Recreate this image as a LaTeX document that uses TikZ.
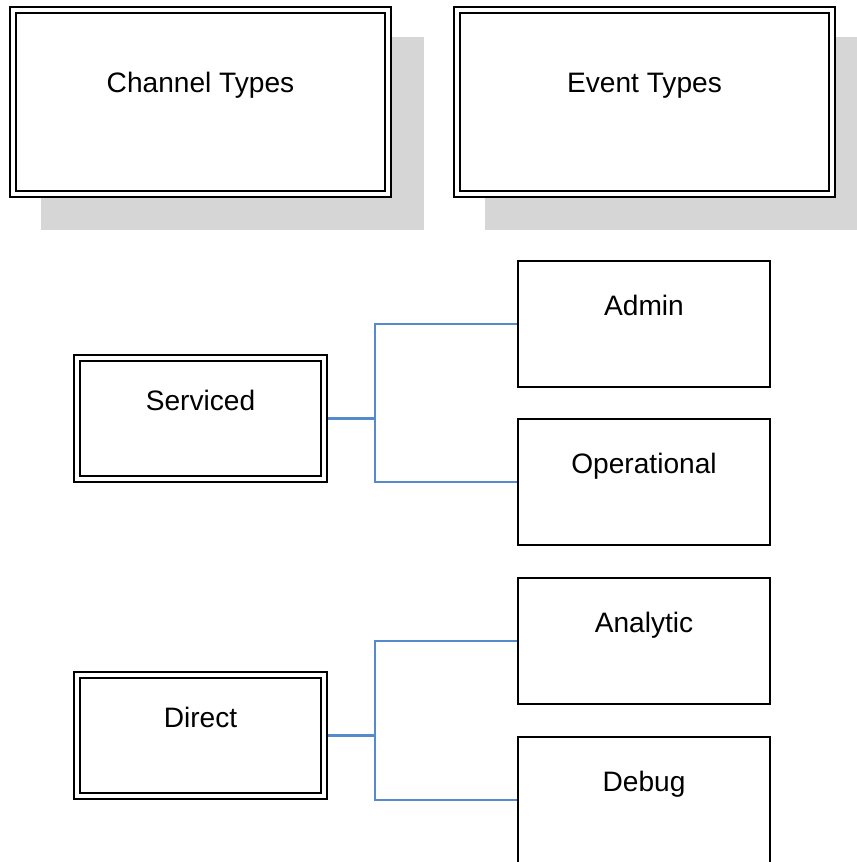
\documentclass[tikz,border=0pt]{standalone}
\usepackage{fontspec}
\setmainfont{Liberation Sans}
\usetikzlibrary{backgrounds}
\definecolor{linkblue}{RGB}{85,138,204}
\definecolor{shadowgray}{RGB}{214,214,214}

\begin{document}
\begin{tikzpicture}
[x=0.02cm, y=-0.02cm,
typebox/.style ={rectangle, draw=black, fill=white, double, line width=1.1pt,
double distance=2.3pt, outer sep=0pt, minimum width=7.5cm, minimum height=3.68cm,
text height=0pt, text depth=0.37cm, font=\fontsize{16}{19}\selectfont},
chanbox/.style ={rectangle, draw=black, fill=white, double, line width=1.1pt,
double distance=2.3pt, outer sep=0pt, minimum width=4.94cm, minimum height=2.42cm,
text height=0pt, text depth=0.32cm, font=\fontsize{16}{19}\selectfont},
evbox/.style ={rectangle, draw=black, fill=white, line width=1.2pt,
outer sep=0pt, minimum width=5.04cm, minimum height=2.52cm,
text height=0pt, text depth=0.36cm, font=\fontsize{16}{19}\selectfont},
link/.style ={draw=linkblue, line width=1.2pt}]

\useasboundingbox (0,0) rectangle (857,862);
\clip (0,0) rectangle (857,862);

% headings
\node (ctypes) [typebox] at (200.5,102) {Channel Types};
\node (etypes) [typebox] at (644.5,102) {Event Types};
% channel types
\node (serviced) [chanbox] at (200.5,418.5) {Serviced};
\node (direct) [chanbox] at (200.5,735.5) {Direct};
% event types
\node (admin) [evbox] at (644,324) {Admin};
\node (oper) [evbox] at (644,482) {Operational};
\node (analytic) [evbox] at (644,641) {Analytic};
\node (debug) [evbox] at (644,800) {Debug};

\begin{scope}[on background layer]
\fill[shadowgray] ([shift={(28,27)}]ctypes.north west) rectangle ([shift={(36,36)}]ctypes.south east);
\fill[shadowgray] ([shift={(28,27)}]etypes.north west) rectangle ([shift={(36,36)}]etypes.south east);
% links
\draw[link] (serviced.east) -- ++(51,0) coordinate (sjoin) |- (admin.west);
\draw[link] (sjoin) |- (oper.west);
\draw[link] (direct.east) -- ++(51,0) coordinate (djoin) |- (analytic.west);
\draw[link] (djoin) |- (debug.west);
\end{scope}
\end{tikzpicture}
\end{document}
